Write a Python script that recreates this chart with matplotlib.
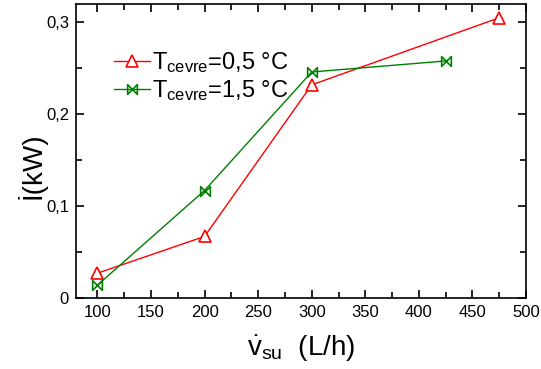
import matplotlib
matplotlib.use("Agg")
import matplotlib.pyplot as plt
from matplotlib.path import Path
from matplotlib.ticker import MultipleLocator, FuncFormatter

plt.rcParams['font.family'] = ['Liberation Sans', 'DejaVu Sans']
plt.rcParams['mathtext.fontset'] = 'custom'
plt.rcParams['mathtext.rm'] = 'Liberation Sans'
plt.rcParams['mathtext.it'] = 'Liberation Sans'

# data
flow_05 = [100, 200, 300, 475]
exergy_05 = [0.027, 0.067, 0.232, 0.305]
flow_15 = [100, 200, 300, 425]
exergy_15 = [0.014, 0.117, 0.246, 0.258]
labels = [r'T$_{\mathrm{cevre}}$=0,5 °C', r'T$_{\mathrm{cevre}}$=1,5 °C']

bowtie = Path([(-1, -1), (1, 1), (1, -1), (-1, 1), (-1, -1)],
              [Path.MOVETO, Path.LINETO, Path.LINETO, Path.LINETO, Path.CLOSEPOLY])

fig = plt.figure(figsize=(5.41, 3.69), dpi=100)
ax = fig.add_axes([76 / 541, 1 - 298 / 369, 450 / 541, 294 / 369])

ax.plot(flow_05, exergy_05, color='#ff0000', lw=1.0, marker='^', ms=9,
        mfc='white', mec='#ff0000', mew=1.2, label=labels[0])
ax.plot(flow_15, exergy_15, color='#008000', lw=1.0, marker=bowtie, ms=7,
        mfc='none', mec='#008000', mew=1.2, label=labels[1])

ax.set_xlim(80, 500)
ax.set_ylim(0, 0.32)
ax.xaxis.set_major_locator(MultipleLocator(50))
ax.xaxis.set_minor_locator(MultipleLocator(25))
ax.yaxis.set_major_locator(MultipleLocator(0.1))
ax.yaxis.set_minor_locator(MultipleLocator(0.05))
ax.yaxis.set_major_formatter(FuncFormatter(
    lambda v, p: '0' if abs(v) < 1e-9 else f"{v:.1f}".replace('.', ',')))
ax.tick_params(which='both', direction='in', top=True, right=True,
               labelsize=12, width=1.2)
ax.tick_params(which='major', length=6, pad=5)
ax.tick_params(which='minor', length=4)
for s in ax.spines.values():
    s.set_linewidth(1.2)

ax.set_ylabel('İ(kW)', fontsize=20)
ax.yaxis.set_label_coords(-0.065, 0.45)
ax.set_xlabel(r'$\dot{\mathrm{v}}_{\mathrm{su}}$  (L/h)', fontsize=20, labelpad=10)

ax.legend(loc='upper left', bbox_to_anchor=(0.085, 0.843), frameon=False,
          fontsize=17, handlelength=1.5, handletextpad=0.1, labelspacing=0.135,
          borderaxespad=0, borderpad=0)

fig.savefig('out.png', dpi=100)
